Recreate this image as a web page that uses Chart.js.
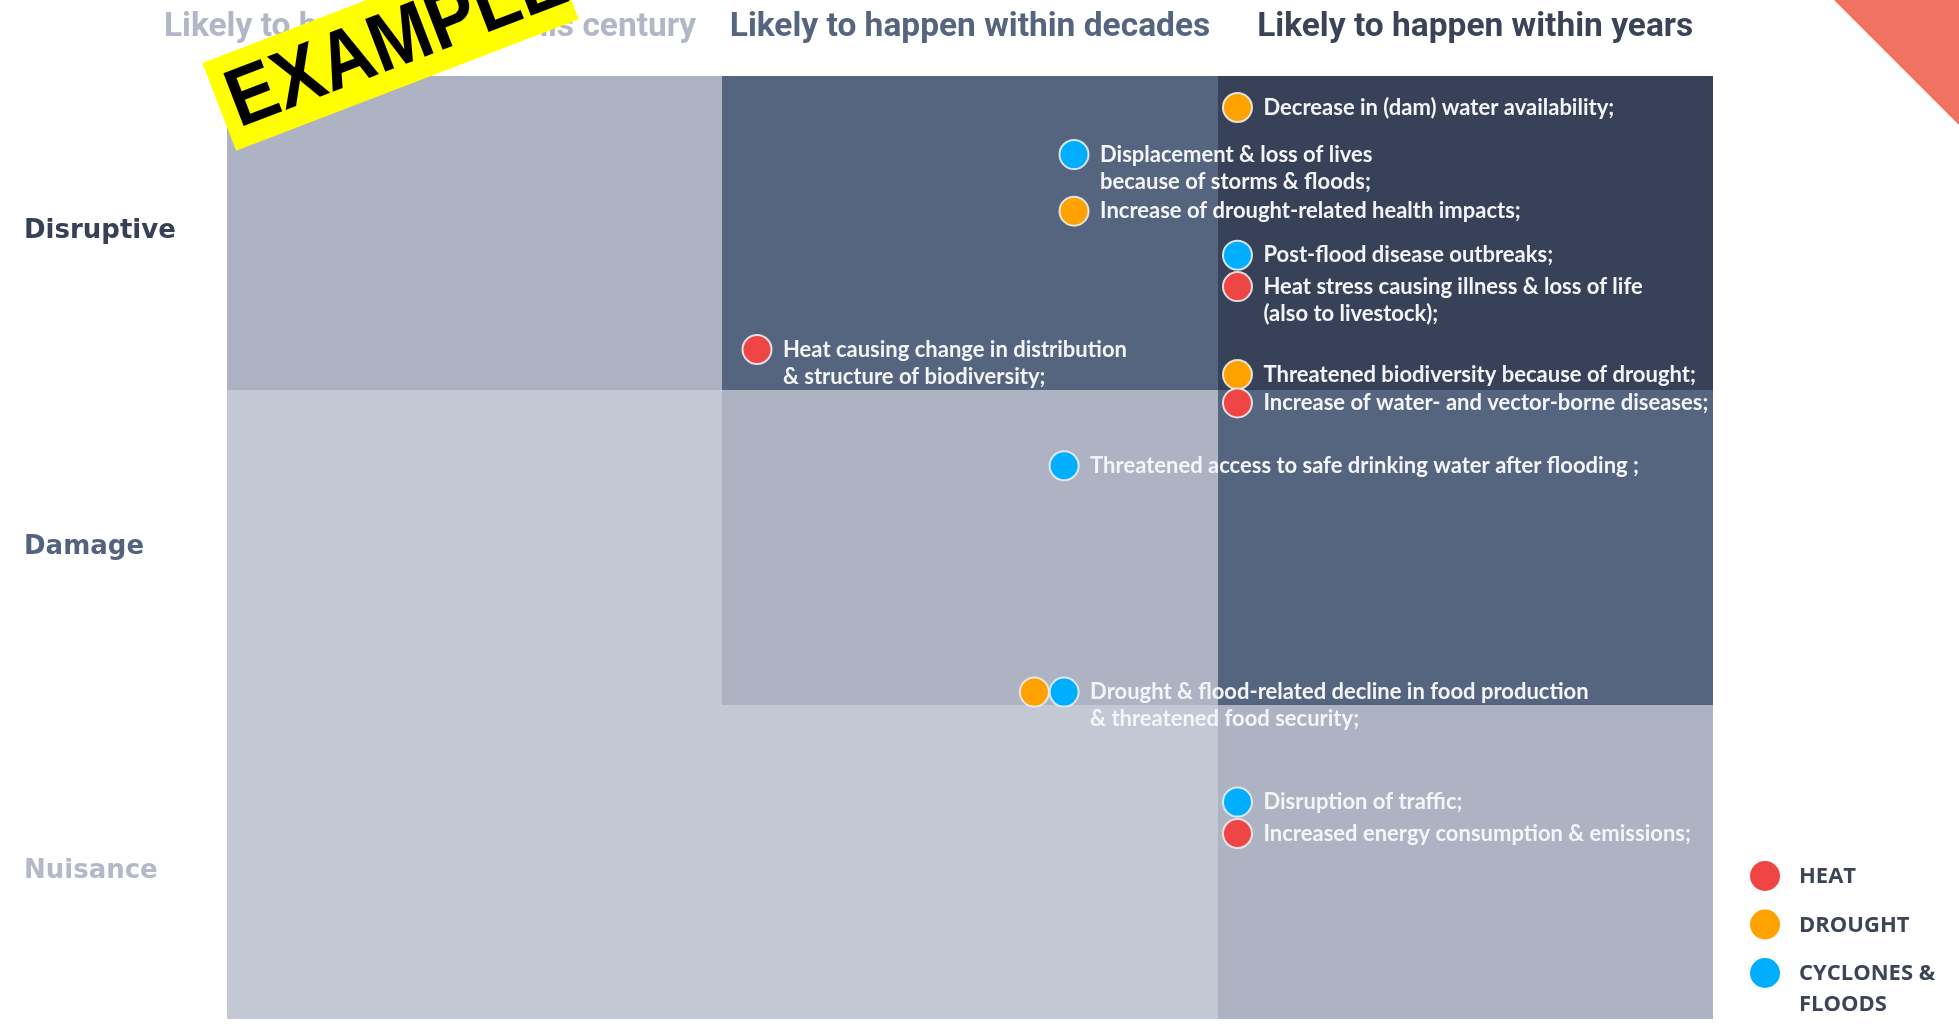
<!DOCTYPE html>
<html>
<head>
<meta charset="utf-8">
<title>Climate risk matrix</title>
<script src="https://cdn.jsdelivr.net/npm/chart.js@4.4.0/dist/chart.umd.min.js"></script>
<style>
	html, body { margin: 0; padding: 0; background: #fff; overflow: hidden; }
	canvas { display: block; }
</style>
</head>
<body>
<canvas id="risk-chart" width="1959" height="1030"></canvas>
<script>
var likelihoods = ['Likely to happen within this century', 'Likely to happen within decades', 'Likely to happen within years'];
var impacts = ['Nuisance', 'Damage', 'Disruptive'];
// risk level of each cell, bottom row (Nuisance) first
var riskLevels = [
	[0, 0, 1],
	[0, 1, 2],
	[1, 2, 3],
];
var hazards = ['HEAT', 'DROUGHT', 'CYCLONES & FLOODS'];

// x = likelihood (0..3), y = impact (0..3)
var heatRisks = [
	{ x: 2.04, y: 2.33, text: ['Heat stress causing illness & loss of life', '(also to livestock);'] },
	{ x: 1.07, y: 2.13, text: ['Heat causing change in distribution', '& structure of biodiversity;'] },
	{ x: 2.04, y: 1.96, text: ['Increase of water- and vector-borne diseases;'] },
	{ x: 2.04, y: 0.59, text: ['Increased energy consumption & emissions;'] },
];
var droughtRisks = [
	{ x: 2.04, y: 2.90, text: ['Decrease in (dam) water availability;'] },
	{ x: 1.71, y: 2.57, text: ['Increase of drought-related health impacts;'] },
	{ x: 2.04, y: 2.05, text: ['Threatened biodiversity because of drought;'] },
	{ x: 1.63, y: 1.04, text: [] },
];
var floodRisks = [
	{ x: 1.71, y: 2.75, text: ['Displacement & loss of lives', 'because of storms & floods;'] },
	{ x: 2.04, y: 2.43, text: ['Post-flood disease outbreaks;'] },
	{ x: 1.69, y: 1.76, text: ['Threatened access to safe drinking water after flooding ;'] },
	{ x: 1.69, y: 1.04, text: ['Drought & flood-related decline in food production', '& threatened food security;'] },
	{ x: 2.04, y: 0.69, text: ['Disruption of traffic;'] },
];

var cellColors = ['#c2c8d4', '#adb3c3', '#55647f', '#374157'];
var headerColors = ['#b1b7c6', '#55647f', '#3a4358'];
var impactColors = ['#b3b9c8', '#52627f', '#364057'];
var hazardColors = ['#ef4545', '#ffa200', '#00aeff'];

var matrixCells = {
	id: 'matrixCells',
	beforeDatasetsDraw(chart) {
		const { ctx, scales: { x, y } } = chart;
		ctx.save();
		riskLevels.forEach((row, r) => {
			row.forEach((level, c) => {
				const left = Math.round(x.getPixelForValue(c));
				const right = Math.round(x.getPixelForValue(c + 1));
				const top = Math.round(y.getPixelForValue(r + 1));
				const bottom = Math.round(y.getPixelForValue(r));
				ctx.fillStyle = cellColors[level];
				ctx.fillRect(left, top, right - left, bottom - top);
			});
		});
		ctx.restore();
	}
};

var riskLabels = {
	id: 'riskLabels',
	afterDatasetsDraw(chart) {
		const ctx = chart.ctx;
		ctx.save();
		ctx.font = 'bold 22px Lato';
		ctx.fillStyle = '#f4f5f8';
		ctx.textBaseline = 'middle';
		chart.data.datasets.forEach((ds, i) => {
			chart.getDatasetMeta(i).data.forEach((pt, j) => {
				ds.data[j].text.forEach((line, k) => {
					ctx.fillText(line, pt.x + 26, pt.y + k * 27);
				});
			});
		});
		ctx.restore();
	}
};

var decorations = {
	id: 'decorations',
	afterDraw(chart) {
		const { ctx, scales: { x, y } } = chart;
		ctx.save();

		// column headers
		var headerX = [0.41, 1.5, 2.52];
		ctx.font = 'bold 33.5px Roboto';
		ctx.textAlign = 'center';
		ctx.textBaseline = 'middle';
		likelihoods.forEach((t, i) => {
			ctx.fillStyle = headerColors[i];
			ctx.fillText(t, x.getPixelForValue(headerX[i]), 28);
		});

		// row labels
		var rowNudge = [9, 0, -2];
		ctx.font = 'bold 26px "DejaVu Sans"';
		ctx.textAlign = 'left';
		impacts.forEach((t, i) => {
			ctx.fillStyle = impactColors[i];
			ctx.fillText(t, 24, y.getPixelForValue(i + 0.5) + rowNudge[i]);
		});

		// legend
		ctx.font = 'bold 22px "Open Sans"';
		hazards.forEach((t, i) => {
			var cy = 876 + i * 48.5;
			ctx.beginPath();
			ctx.arc(1765, cy, 15, 0, Math.PI * 2);
			ctx.fillStyle = hazardColors[i];
			ctx.fill();
			ctx.fillStyle = '#3c4457';
			var lines = t.indexOf(' & ') > 0 ? [t.split(' & ')[0] + ' &', t.split(' & ')[1]] : [t];
			lines.forEach((l, k) => ctx.fillText(l, 1799, cy + 1 + k * 31));
		});

		// corner triangle
		ctx.fillStyle = '#f27262';
		ctx.beginPath();
		ctx.moveTo(1834, 0);
		ctx.lineTo(1959, 0);
		ctx.lineTo(1959, 125);
		ctx.closePath();
		ctx.fill();

		// stamp
		ctx.translate(391, 41);
		ctx.rotate(-21 * Math.PI / 180);
		ctx.fillStyle = '#ffff00';
		ctx.fillRect(-184, -47, 367, 94);
		ctx.fillStyle = '#000';
		ctx.font = 'bold 82px "Liberation Sans"';
		ctx.textAlign = 'center';
		ctx.textBaseline = 'middle';
		ctx.scale(0.9, 1);
		ctx.fillText('EXAMPLE', 6, 4);

		ctx.restore();
	}
};

function hazardDataset(label, data, color, order) {
	return {
		label: label,
		data: data,
		order: order,
		backgroundColor: color,
		borderColor: 'rgba(236,238,242,0.9)',
		borderWidth: 2,
		pointRadius: 14.5,
		pointHoverRadius: 14.5,
	};
}

var ctx = document.getElementById('risk-chart');

new Chart(ctx, {
	type: 'scatter',
	data: {
		datasets: [
			hazardDataset(hazards[0], heatRisks, hazardColors[0], 0),
			hazardDataset(hazards[1], droughtRisks, hazardColors[1], 2),
			hazardDataset(hazards[2], floodRisks, hazardColors[2], 1),
		],
	},
	options: {
		responsive: false,
		animation: false,
		events: [],
		layout: { autoPadding: false, padding: { left: 227, right: 246, top: 76, bottom: 11 } },
		scales: {
			x: { type: 'linear', min: 0, max: 3, display: false },
			y: { type: 'linear', min: 0, max: 3, display: false },
		},
		plugins: {
			legend: { display: false },
			tooltip: { enabled: false },
		}
	},
	plugins: [matrixCells, riskLabels, decorations],
});
</script>
</body>
</html>
